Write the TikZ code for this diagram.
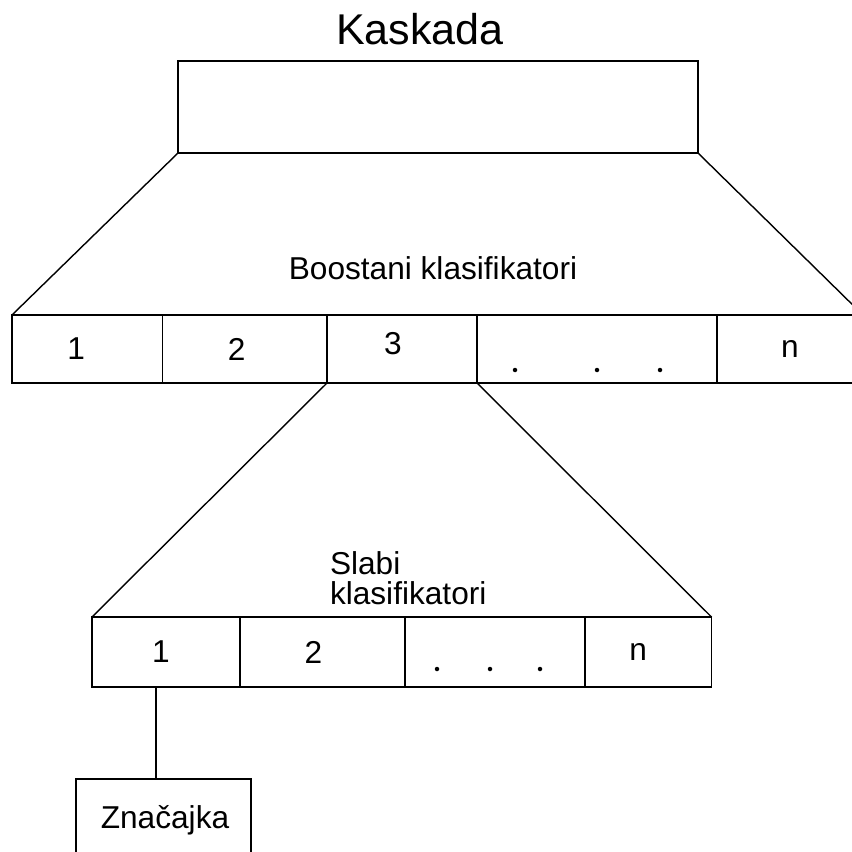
\documentclass[tikz,border=0pt]{standalone}
\usepackage{fontspec}
\setmainfont{Liberation Sans}
\begin{document}
\begin{tikzpicture}[font=\fontsize{18}{18}\selectfont, line width=0.8pt, line join=miter,
	every node/.style={outer sep=0pt, inner sep=0pt},
	cell/.style={draw, anchor=north west, minimum height=1.36cm},
	lowcell/.style={draw, anchor=north west, minimum height=1.40cm}]

	\useasboundingbox (0, 0) rectangle (17.04, -17.04);
	\clip (0, 0) rectangle (17.04, -17.04);

	% Kaskada
	\node[font=\fontsize{24.5}{26}\selectfont] (title) at (8.40, -0.58) {Kaskada};
	\node[draw, anchor=north west, minimum width=10.40cm, minimum height=1.84cm] (casc) at (3.56, -1.22) {};

	% Boostani klasifikatori
	\node (boost) at (8.66, -5.36) {Boostani klasifikatori};
	\node[cell, minimum width=3.01cm, label={[xshift=-0.22cm]center:1}] (b1) at (0.24, -6.30) {};
	\node[cell, minimum width=3.29cm, label={[xshift=-0.16cm]center:2}] (b2) at (3.25, -6.30) {};
	\node[cell, minimum width=3.00cm, label={[xshift=-0.18cm, yshift=0.1cm]center:3}] (b3) at (6.54, -6.30) {};
	\node[cell, minimum width=4.80cm] (bdots) at (9.54, -6.30) {};
	\node[cell, minimum width=2.92cm, label={center:n}] (bn) at (14.34, -6.30) {};
	\foreach \x in {10.30, 11.94, 13.20}
		\fill (\x, -7.40) circle (0.045);
	\draw (casc.south west) -- (b1.north west);
	\draw (casc.south east) -- (bn.north east);

	% Slabi klasifikatori
	\node[anchor=west, align=left, font=\fontsize{18}{17}\selectfont] (weak) at (6.60, -11.56) {Slabi\\klasifikatori};
	\node[lowcell, minimum width=2.96cm, label={[xshift=-0.10cm]center:1}] (s1) at (1.84, -12.34) {};
	\node[lowcell, minimum width=3.30cm, label={[xshift=-0.18cm]center:2}] (s2) at (4.80, -12.34) {};
	\node[lowcell, minimum width=3.60cm] (sdots) at (8.10, -12.34) {};
	\node[lowcell, minimum width=2.53cm, label={[xshift=-0.20cm]center:n}] (sn) at (11.70, -12.34) {};
	\foreach \x in {8.74, 9.80, 10.80}
		\fill (\x, -13.38) circle (0.045);
	\draw (b3.south west) -- (s1.north west);
	\draw (b3.south east) -- (sn.north east);

	% Značajka
	\node[draw, anchor=north west, minimum width=3.50cm, minimum height=1.90cm] (feat) at (1.52, -15.58) {};
	\node (featlbl) at (3.30, -16.40) {Značajka};
	\coordinate (fj) at (3.12, -13.74);
	\draw (fj) -- (fj |- feat.north);
\end{tikzpicture}
\end{document}
